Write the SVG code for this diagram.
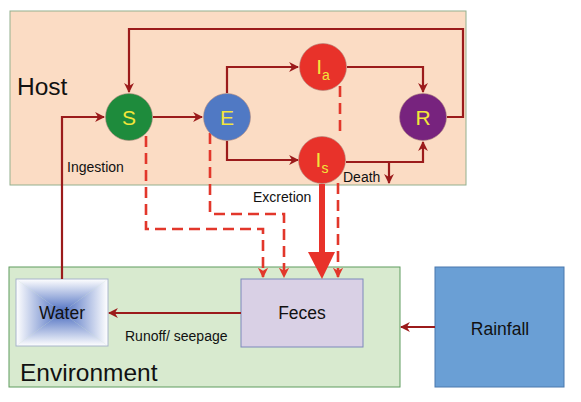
<svg xmlns="http://www.w3.org/2000/svg" width="581" height="402" viewBox="0 0 581 402">
<defs>
<style>
.lbl{font-family:"Liberation Sans",Arial,sans-serif;fill:#111}
.big{font-size:24.5px}
.sm{font-size:14px}
.box{font-size:17.5px}
.node{font-family:"Liberation Sans",Arial,sans-serif;font-size:21px;fill:#f2e63a;text-anchor:middle}
.sub{font-size:14px}
.ar{fill:none;stroke:#9b1b1b;stroke-width:2.2}
.ds{fill:none;stroke:#e2372b;stroke-width:2.6;stroke-dasharray:11 6}
</style>
<marker id="ah" viewBox="0 0 10 10" refX="9" refY="5" markerWidth="4.5" markerHeight="4.5" orient="auto" markerUnits="strokeWidth">
<path d="M0,0 L10,5 L0,10 L3,5 z" fill="#9b1b1b"/>
</marker>
<marker id="ahd" viewBox="0 0 10 10" refX="9" refY="5" markerWidth="4" markerHeight="4" orient="auto" markerUnits="strokeWidth">
<path d="M0,0 L10,5 L0,10 L3,5 z" fill="#e2372b"/>
</marker>
<linearGradient id="gt" gradientUnits="userSpaceOnUse" x1="0" y1="279" x2="0" y2="312.5">
<stop offset="0" stop-color="#ffffff"/><stop offset="1" stop-color="#4a6cc0"/>
</linearGradient>
<linearGradient id="gb" gradientUnits="userSpaceOnUse" x1="0" y1="346" x2="0" y2="312.5">
<stop offset="0" stop-color="#ffffff"/><stop offset="1" stop-color="#4a6cc0"/>
</linearGradient>
<linearGradient id="gl" gradientUnits="userSpaceOnUse" x1="16" y1="0" x2="62" y2="0">
<stop offset="0" stop-color="#ffffff"/><stop offset="1" stop-color="#4a6cc0"/>
</linearGradient>
<linearGradient id="gr" gradientUnits="userSpaceOnUse" x1="108" y1="0" x2="62" y2="0">
<stop offset="0" stop-color="#ffffff"/><stop offset="1" stop-color="#4a6cc0"/>
</linearGradient>
</defs>
<rect width="581" height="402" fill="#fff"/>
<g id="host">
<rect x="10" y="11" width="456" height="174" fill="#fbdcc4" stroke="#93b08e" stroke-width="1"/>
<text class="lbl big" x="17" y="95">Host</text>
</g>
<g id="environment">
<rect x="9" y="267" width="391" height="120" fill="#d8eacf" stroke="#5f9c5f" stroke-width="1"/>
<text class="lbl big" x="20" y="381">Environment</text>
</g>
<g id="rainfall">
<rect x="435" y="267" width="129" height="120" fill="#6a9fd5" stroke="#4a78ad" stroke-width="1"/>
<text class="lbl box" x="500" y="335" text-anchor="middle">Rainfall</text>
</g>
<g id="water">
<path d="M16,279 H108 L62,312.5 z" fill="url(#gt)"/>
<path d="M16,346 H108 L62,312.5 z" fill="url(#gb)"/>
<path d="M16,279 V346 L62,312.5 z" fill="url(#gl)"/>
<path d="M108,279 V346 L62,312.5 z" fill="url(#gr)"/>
<rect x="16" y="279" width="92" height="67" fill="none" stroke="#a8b4cc" stroke-width="1"/>
<text class="lbl box" x="62" y="319" text-anchor="middle">Water</text>
</g>
<g id="feces">
<rect x="241" y="279" width="122" height="68" fill="#d9d0e5" stroke="#7c88bb" stroke-width="1"/>
<text class="lbl box" x="302" y="319" text-anchor="middle">Feces</text>
</g>
<g id="connectors">
<path class="ar" d="M447,117 H463 V29 H129 V92" marker-end="url(#ah)"/>
<path class="ar" d="M153,117 H202" marker-end="url(#ah)"/>
<path class="ar" d="M227,93 V67 H298" marker-end="url(#ah)"/>
<path class="ar" d="M227,141 V160 H298" marker-end="url(#ah)"/>
<path class="ar" d="M347,67 H423 V92" marker-end="url(#ah)"/>
<path class="ar" d="M346,162 H423 V142" marker-end="url(#ah)"/>
<path class="ar" d="M389,162 V183" marker-end="url(#ah)"/>
<path class="ar" d="M62,279 V117 H104" marker-end="url(#ah)"/>
<path class="ar" d="M241,313 H109" marker-end="url(#ah)"/>
<path class="ar" d="M435,327 H401" marker-end="url(#ah)"/>
<path class="ds" d="M340,86 V135"/>
<path class="ds" d="M338,183 V277" marker-end="url(#ahd)"/>
<path class="ds" d="M146,136 V229 H263 V277" marker-end="url(#ahd)"/>
<path class="ds" d="M210,133 V214 H284 V277" marker-end="url(#ahd)"/>
<path d="M322,184 V253" stroke="#e8322a" stroke-width="6" fill="none"/>
<path d="M308,252 H335 L322,279 z" fill="#e8322a"/>
<text class="lbl sm" x="67" y="172">Ingestion</text>
<text class="lbl sm" x="253" y="202">Excretion</text>
<text class="lbl sm" x="343" y="182">Death</text>
<text class="lbl sm" x="125" y="341">Runoff/ seepage</text>
</g>
<g id="S">
<circle cx="129" cy="117" r="23.5" fill="#1e8b3c" stroke="#b08a80" stroke-width="0.6"/>
<text class="node" x="129" y="125">S</text>
</g>
<g id="E">
<circle cx="227" cy="117" r="23.5" fill="#5079c4" stroke="#b08a80" stroke-width="0.6"/>
<text class="node" x="227" y="125">E</text>
</g>
<g id="Ia">
<circle cx="323" cy="67" r="23.5" fill="#e8322a" stroke="#b08a80" stroke-width="0.6"/>
<text class="node" x="323" y="74">I<tspan class="sub" dy="6">a</tspan></text>
</g>
<g id="Is">
<circle cx="322" cy="160" r="23.5" fill="#e8322a" stroke="#b08a80" stroke-width="0.6"/>
<text class="node" x="322" y="167">I<tspan class="sub" dy="6">s</tspan></text>
</g>
<g id="R">
<circle cx="423" cy="117" r="23.5" fill="#77237e" stroke="#b08a80" stroke-width="0.6"/>
<text class="node" x="423" y="125">R</text>
</g>
</svg>
